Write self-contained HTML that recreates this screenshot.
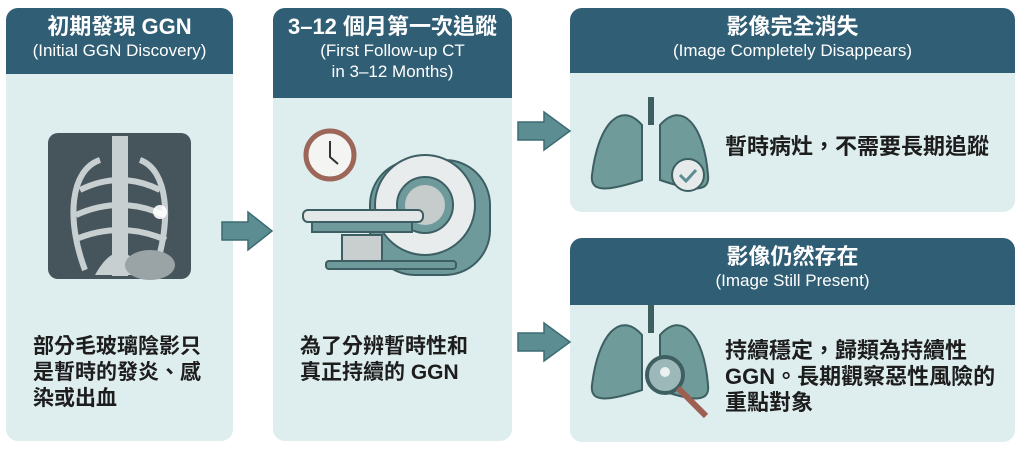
<!DOCTYPE html>
<html><head><meta charset="utf-8"><style>
body{margin:0;width:1024px;height:452px;background:#fff;position:relative;overflow:hidden;font-family:"Liberation Sans","Noto Sans CJK TC",sans-serif}
.card{position:absolute;background:#deedee;border-radius:12px;overflow:hidden}
.hd{background:#305e75;color:#fff;text-align:center;font-weight:bold}
.t{font-size:22px;line-height:27px}
.s{font-size:17px;line-height:21px;font-weight:normal}
.txt{position:absolute;font-weight:bold;color:#1d1d1d;font-size:21px;line-height:26px}
svg{position:absolute}
</style></head><body>
<div class="card" style="left:6px;top:8px;width:227px;height:433px"><div class="hd" style="height:66px;padding-top:5px;box-sizing:border-box"><div class="t">初期發現 GGN</div><div class="s">(Initial GGN Discovery)</div></div></div>
<div class="card" style="left:273px;top:8px;width:239px;height:433px"><div class="hd" style="height:90px;padding-top:5px;box-sizing:border-box"><div class="t">3–12 個月第一次追蹤</div><div class="s">(First Follow-up CT<br>in 3–12 Months)</div></div></div>
<div class="card" style="left:570px;top:8px;width:445px;height:204px"><div class="hd" style="height:65px;padding-top:5px;box-sizing:border-box"><div class="t">影像完全消失</div><div class="s">(Image Completely Disappears)</div></div></div>
<div class="card" style="left:570px;top:238px;width:445px;height:204px"><div class="hd" style="height:67px;padding-top:5px;box-sizing:border-box"><div class="t">影像仍然存在</div><div class="s">(Image Still Present)</div></div></div>

<div class="txt" style="left:33px;top:334px">部分毛玻璃陰影只<br>是暫時的發炎、感<br>染或出血</div>
<div class="txt" style="left:300px;top:334px">為了分辨暫時性和<br>真正持續的 GGN</div>
<div class="txt" style="left:725px;top:134px;font-size:22px">暫時病灶，不需要長期追蹤</div>
<div class="txt" style="left:725px;top:338px;font-size:22px">持續穩定，歸類為持續性<br>GGN。長期觀察惡性風險的<br>重點對象</div>

<svg width="1024" height="452" style="left:0;top:0">
<g fill="#5b8d92" stroke="#3d6c72" stroke-width="1.5">
<polygon points="222,222 248,222 248,212 272,231 248,250 248,240 222,240"/>
<polygon points="518,122 544,122 544,112 570,131 544,150 544,140 518,140"/>
<polygon points="518,333 544,333 544,323 570,342 544,361 544,351 518,351"/>
</g>
<rect x="48" y="133" width="143" height="146" rx="10" fill="#46545c"/>
<g fill="none" stroke="#c8cfd1" stroke-width="6">
<path d="M85,270 C66,220 70,170 100,160 M155,270 C172,220 168,170 140,160"/>
<path d="M80,190 Q120,170 160,190 M76,215 Q120,195 164,215 M74,240 Q120,220 166,240"/>
</g>
<rect x="112" y="136" width="16" height="140" fill="#c8cfd1"/>
<path d="M95,275 Q120,230 145,275Z" fill="#c8cfd1"/>
<ellipse cx="150" cy="265" rx="25" ry="15" fill="#9aa3a6"/>
<circle cx="160" cy="212" r="7" fill="#fff" opacity=".9"/>
<circle cx="330" cy="155" r="24" fill="#f4f4f2" stroke="#9c6659" stroke-width="5"/>
<path d="M330,141 V157 L338,164" stroke="#333" stroke-width="2" fill="none"/>
<rect x="370" y="160" width="120" height="115" rx="45" fill="#6f9a9c" stroke="#3d5f63" stroke-width="2"/>
<circle cx="425" cy="205" r="50" fill="#e8ecec" stroke="#3d5f63" stroke-width="2"/>
<circle cx="425" cy="205" r="28" fill="#6f9a9c" stroke="#3d5f63" stroke-width="2"/>
<circle cx="425" cy="205" r="20" fill="#c6cccc"/>
<rect x="342" y="235" width="40" height="28" fill="#c9cfcf" stroke="#3d5f63" stroke-width="2"/>
<rect x="303" y="210" width="120" height="12" rx="5" fill="#e3e7e7" stroke="#3d5f63" stroke-width="2"/>
<rect x="312" y="222" width="100" height="10" fill="#6f9a9c" stroke="#3d5f63" stroke-width="2"/>
<rect x="326" y="261" width="130" height="8" rx="3" fill="#6f9a9c" stroke="#3d5f63" stroke-width="2"/>
<g fill="#6f9c9a" stroke="#3e5f62" stroke-width="2">
<path d="M642,125 C620,100 598,125 592,175 C590,192 605,192 642,180 Z"/>
<path d="M660,125 C682,100 704,125 708,175 C710,192 695,192 660,180 Z"/>
<path d="M642,335 C620,310 598,335 592,385 C590,402 605,402 642,390 Z"/>
<path d="M660,335 C682,310 704,335 708,385 C710,402 695,402 660,390 Z"/>
</g>
<path d="M651,97 V125 M651,305 V333" stroke="#3e5f62" stroke-width="6"/>
<circle cx="688" cy="175" r="16" fill="#e6eaea" stroke="#3e5f62" stroke-width="2"/>
<path d="M680,175 l6,6 l10,-11" fill="none" stroke="#5b8d92" stroke-width="3"/>
<circle cx="665" cy="375" r="18" fill="#9cb8b8" stroke="#3e5f62" stroke-width="4"/>
<path d="M678,388 L706,416" stroke="#9c5f52" stroke-width="6"/>
<circle cx="665" cy="372" r="5" fill="#fff" opacity=".8"/>
</svg>
</body></html>
